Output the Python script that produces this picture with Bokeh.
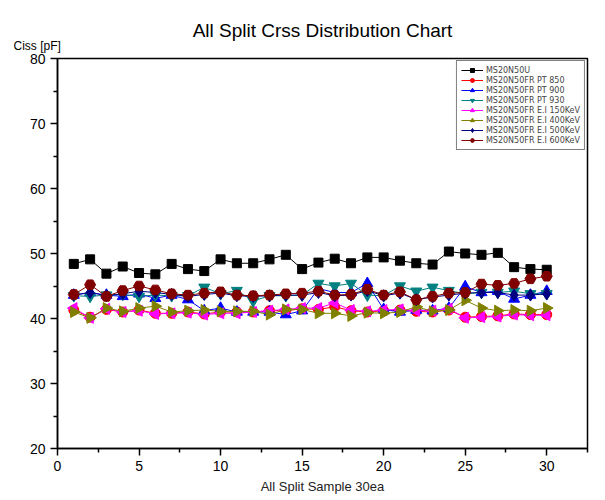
import math
from bokeh.plotting import figure
from bokeh.models import FixedTicker, Legend, Title
from bokeh.embed import file_html
from bokeh.resources import INLINE

x = list(range(1, 31))

ms20n50u = [48.4, 49.1, 46.9, 48.0, 47.0, 46.8, 48.4, 47.6, 47.3, 49.1, 48.5, 48.5, 49.1, 49.8, 47.6,
            48.6, 49.2, 48.5, 49.4, 49.4, 48.9, 48.5, 48.3, 50.3, 50.0, 49.8, 50.1, 47.9, 47.6, 47.5]
pt850 = [41.3, 40.2, 41.4, 41.0, 41.3, 40.8, 40.8, 41.0, 40.7, 41.0, 41.0, 41.0, 41.2, 41.2, 41.5,
         41.4, 41.8, 41.2, 41.0, 41.2, 41.3, 41.1, 41.0, 41.3, 40.2, 40.3, 40.4, 40.7, 40.6, 40.6]
pt900 = [43.6, 44.0, 43.6, 43.4, 43.8, 43.1, 43.6, 42.9, 41.2, 41.6, 41.0, 41.0, 41.0, 40.6, 41.2,
         44.6, 44.0, 44.0, 45.4, 41.4, 41.0, 41.3, 41.2, 41.6, 44.9, 44.0, 44.2, 43.0, 43.6, 44.2]
pt930 = [43.5, 43.4, 43.6, 43.7, 43.4, 43.6, 43.5, 43.5, 44.8, 43.8, 44.3, 42.7, 43.5, 43.5, 43.6,
         45.4, 45.0, 45.4, 43.6, 43.5, 45.0, 44.2, 44.8, 44.3, 43.8, 44.0, 44.0, 44.2, 43.8, 43.8]
ei150 = [41.6, 40.1, 41.5, 41.0, 41.2, 40.7, 40.8, 40.9, 40.6, 40.8, 40.8, 41.0, 41.2, 41.4, 41.6,
         41.6, 42.4, 41.3, 41.1, 41.3, 41.4, 41.2, 41.2, 41.5, 40.1, 40.2, 40.3, 40.6, 40.5, 40.5]
ei400 = [41.0, 40.1, 41.6, 41.1, 41.6, 41.9, 41.0, 41.2, 41.3, 41.1, 41.1, 41.1, 40.6, 41.4, 41.4,
         40.8, 40.8, 40.4, 40.9, 40.8, 41.0, 41.8, 41.1, 41.3, 42.8, 41.6, 41.2, 41.3, 41.2, 41.6]
ei500 = [43.6, 44.0, 43.5, 43.8, 44.2, 44.0, 43.7, 43.4, 43.7, 43.9, 43.5, 43.4, 43.5, 43.6, 43.6,
         44.0, 43.5, 43.6, 44.3, 43.5, 43.9, 42.9, 43.3, 43.6, 43.9, 44.0, 44.0, 43.6, 43.6, 43.8]
ei600 = [43.7, 45.2, 43.4, 44.3, 45.0, 44.4, 43.8, 43.6, 43.9, 44.1, 43.6, 43.5, 43.6, 43.8, 43.9,
         44.2, 43.6, 43.7, 44.5, 43.6, 44.1, 42.9, 43.4, 43.9, 44.0, 45.3, 45.1, 45.4, 46.1, 46.5]

series_names = ["MS20N50U", "MS20N50FR PT 850", "MS20N50FR PT 900", "MS20N50FR PT 930",
                "MS20N50FR E.I 150KeV", "MS20N50FR E.I 400KeV", "MS20N50FR E.I 500KeV",
                "MS20N50FR E.I 600KeV"]
series_values = [ms20n50u, pt850, pt900, pt930, ei150, ei400, ei500, ei600]
colors = ["#000000", "#FF0000", "#0000FF", "#008080", "#FF00FF", "#808000", "#000080", "#800000"]
markers = ["square", "circle", "triangle", "inverted_triangle", "triangle", "triangle", "diamond", "hex"]
angles = [0, 0, 0, 0, math.pi / 2, -math.pi / 2, 0, 0]
sizes = [9, 10, 11, 11, 11, 11, 12, 11]

x_ticks = [0, 5, 10, 15, 20, 25, 30]
x_minor = [2.5, 7.5, 12.5, 17.5, 22.5, 27.5, 32.5]
y_ticks = [20, 30, 40, 50, 60, 70, 80]
y_minor = [25, 35, 45, 55, 65, 75]

font = "Liberation Sans"

p = figure(width=600, height=498, x_range=(0, 32.5), y_range=(20, 80),
           output_backend="svg", toolbar_location=None,
           min_border_left=57, min_border_right=13, min_border_top=58, min_border_bottom=50)
p.title.text = "All Split Crss Distribution Chart"
p.title.align = "center"
p.title.text_font = font
p.title.text_font_size = "19px"
p.title.text_font_style = "normal"
p.title.text_color = "black"
p.title.standoff = -20

ylab = Title(text="Ciss [pF]", align="left", offset=-44, text_font=font,
             text_font_size="12px", text_font_style="normal", text_color="black", standoff=12)
p.add_layout(ylab, "above")

p.background_fill_color = "white"
p.border_fill_color = "white"
p.outline_line_color = "black"
p.outline_line_width = 1.5
p.xgrid.visible = False
p.ygrid.visible = False

for ax in (p.xaxis[0], p.yaxis[0]):
    ax.axis_line_width = 1.5
    ax.major_tick_line_width = 1.5
    ax.minor_tick_line_width = 1.5
    ax.major_tick_out = 7
    ax.major_tick_in = 0
    ax.minor_tick_out = 4
    ax.minor_tick_in = 0
    ax.major_label_text_font = font
    ax.major_label_text_font_size = "14px"
    ax.major_label_text_color = "black"
    ax.major_label_standoff = 5

p.xaxis.ticker = FixedTicker(ticks=x_ticks, minor_ticks=x_minor)
p.yaxis.ticker = FixedTicker(ticks=y_ticks, minor_ticks=y_minor)
p.xaxis.axis_label = "All Split Sample 30ea"
p.xaxis.axis_label_text_font = font
p.xaxis.axis_label_text_font_size = "13px"
p.xaxis.axis_label_text_font_style = "normal"
p.xaxis.axis_label_text_color = "#222222"
p.xaxis.axis_label_standoff = 5

items = []
for name, vals, c, m, a, s in zip(series_names, series_values, colors, markers, angles, sizes):
    r1 = p.line(x, vals, line_color=c, line_width=1)
    r2 = p.scatter(x, vals, marker=m, size=s, angle=a, fill_color=c, line_color=c)
    items.append((name, [r1, r2]))

legend = Legend(items=items, location="top_right")
legend.label_text_font = "DejaVu Sans"
legend.label_text_font_size = "8px"
legend.label_height = 10
legend.glyph_height = 10
legend.glyph_width = 22
legend.spacing = 0
legend.padding = 4
legend.margin = 2
legend.label_standoff = 3
legend.border_line_color = "black"
legend.border_line_width = 1
legend.background_fill_alpha = 1
p.add_layout(legend)

open("out.html", "w").write(file_html(p, INLINE))
